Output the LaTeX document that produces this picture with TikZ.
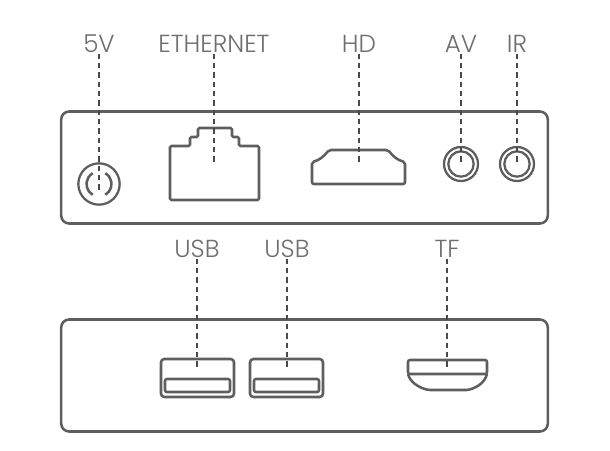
\documentclass[tikz,border=0pt]{standalone}
\usepackage{fontspec}
\setmainfont{Poppins Light}
\usepackage{tikz}
\usetikzlibrary{positioning}

\definecolor{linegray}{HTML}{5E5E5E}
\definecolor{textgray}{HTML}{6E6E6E}
\definecolor{leadgray}{HTML}{4A4A4A}

\begin{document}
\begin{tikzpicture}[
        x=0.75pt,
        y=-0.75pt,
        panel/.style={
            rectangle,
            draw=linegray,
            line width=1.9pt,
            rounded corners=6pt,
            inner sep=0pt,
            minimum width=365pt,
            minimum height=84pt
        },
        outline/.style={
            draw=linegray,
            line width=1.9pt,
            rounded corners=2.5pt
        },
        jack/.style={
            circle,
            draw=linegray,
            line width=1.7pt,
            inner sep=0pt
        },
        port/.style={
            text=textgray,
            font=\fontsize{18.5}{20}\selectfont,
            anchor=base,
            inner sep=1pt
        },
        lead/.style={
            draw=leadgray,
            line width=1.2pt,
            dash pattern=on 4pt off 3pt
        }
    ]
    \useasboundingbox (0,0) rectangle (610,450);
    % Panels
    \node[panel] (front) at (304.5,167.5) {};
    \node[panel] (back) at (304.5,375.5) {};
    % Power socket
    \node[jack, minimum size=31pt] (power) at (99,184) {};
    \draw[outline] (power.center) ++(60:12.5) arc (60:-60:12.5);
    \draw[outline] (power.center) ++(120:12.5) arc (120:240:12.5);
    % Ethernet socket
    \draw[outline, rounded corners=1pt] (170,146) -- (190,146) -- (190,137) -- (198,137) -- (198,128)
        -- (232,128) -- (232,137) -- (239,137) -- (239,146) -- (259,146)
        -- (259,200) -- (170,200) -- cycle;
    % HD socket
    \draw[outline, rounded corners=1.5pt] (312,162) .. controls (320,160) and (324,156) .. (329,150)
        -- (388,150) .. controls (393,156) and (397,160) .. (405,162)
        -- (405,184) -- (312,184) -- cycle;
    % AV and IR sockets
    \node[jack, minimum size=25.5pt] (av) at (461,164) {};
    \node[jack, minimum size=19pt] (av_in) at (461,164) {};
    \node[jack, minimum size=25.5pt] (ir) at (517,164) {};
    \node[jack, minimum size=19pt] (ir_in) at (517,164) {};
    % USB sockets
    \draw[outline] (161,359) rectangle (234,397);
    \draw[outline, rounded corners=1.5pt] (165,379) rectangle (230,392);
    \draw[outline] (250,359) rectangle (323,397);
    \draw[outline, rounded corners=1.5pt] (254,379) rectangle (319,392);
    % TF slot
    \draw[outline, rounded corners=1.5pt] (408,360) -- (487,360) -- (487,374) -- (408,374) -- cycle;
    \draw[outline, rounded corners=1.5pt] (408,374) .. controls (410,382) and (418,387) .. (428,390)
        -- (468,390) .. controls (478,387) and (485,382) .. (487,374);
    % Labels
    \node[port] (l5v) at (99,52) {5V};
    \node[port] (leth) at (214,52) {ETHERNET};
    \node[port] (lhd) at (359,52) {HD};
    \node[port] (lav) at (461,52) {AV};
    \node[port] (lir) at (517,52) {IR};
    \node[port] (lusba) at (197,257) {USB};
    \node[port] (lusbb) at (287,257) {USB};
    \node[port] (ltf) at (447,257) {TF};
    % Leader ends
    \coordinate (e5v) at (99,190);
    \coordinate (eeth) at (214,163);
    \coordinate (ehd) at (359,163);
    \coordinate (eusba) at (197,370);
    \coordinate (eusbb) at (287,370);
    \coordinate (etf) at (447,368);
    % Leaders
    \draw[lead] (l5v.south) -- (e5v);
    \draw[lead] (leth.south) -- (eeth);
    \draw[lead] (lhd.south) -- (ehd);
    \draw[lead] (lav.south) -- (av.center);
    \draw[lead] (lir.south) -- (ir.center);
    \draw[lead] (lusba.south) -- (eusba);
    \draw[lead] (lusbb.south) -- (eusbb);
    \draw[lead] (ltf.south) -- (etf);
\end{tikzpicture}
\end{document}
